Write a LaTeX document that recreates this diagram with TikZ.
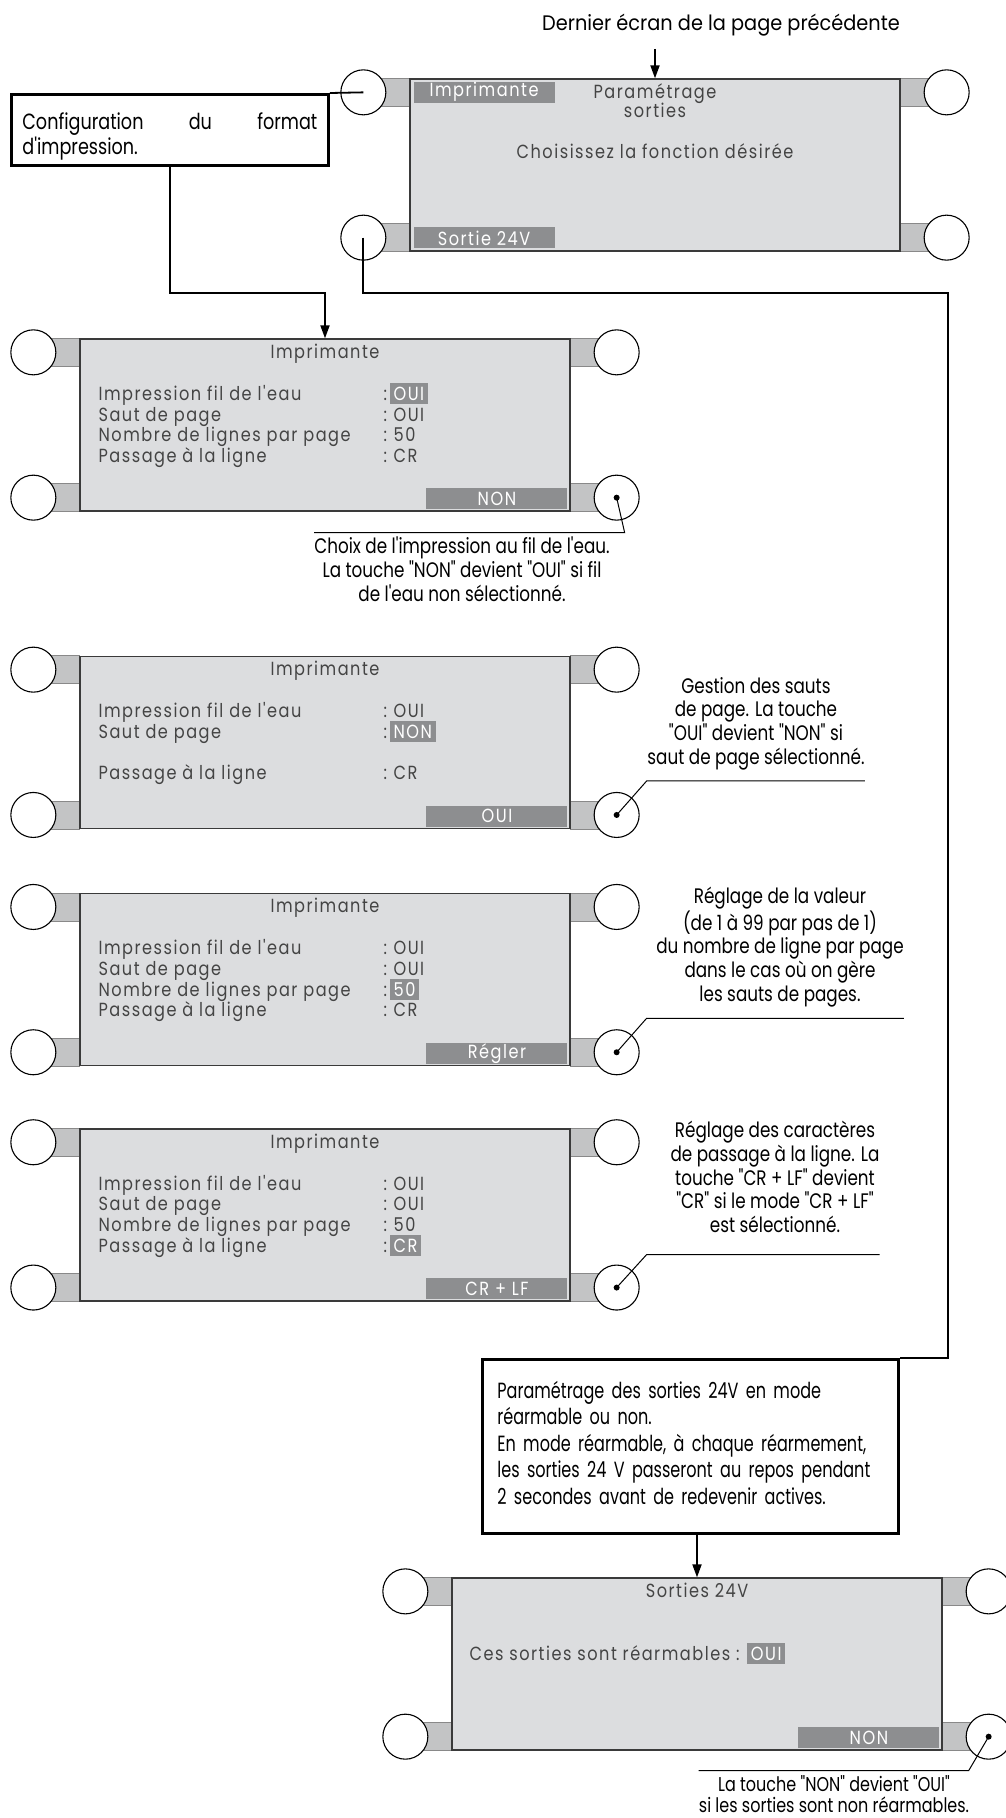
\documentclass[tikz,border=0pt]{standalone}
\usepackage{fontspec}
\setmainfont{Poppins}
\newfontfamily\lcdfont[LetterSpace=8,FakeStretch=0.85]{Poppins}
\newfontfamily\notefont[FakeStretch=0.8]{Poppins}
\newfontfamily\boxfont[FakeStretch=0.73]{Poppins}
\newfontfamily\headfont[FakeStretch=0.92]{Poppins}
\usetikzlibrary{arrows.meta, positioning, calc, backgrounds}
\definecolor{cscreen}{HTML}{DCDDDF}
\definecolor{ctab}{HTML}{C3C4C5}
\definecolor{cbtn}{HTML}{8D8E90}
\definecolor{cline}{HTML}{3A3A3A}
\definecolor{ctext}{HTML}{444444}
\newcommand{\sel}[1]{{\setlength{\fboxsep}{3.6pt}\colorbox{cbtn}{\textcolor{white}{#1}}}}
\newcommand{\nsel}[1]{{\setlength{\fboxsep}{3.6pt}\colorbox{cscreen}{#1}}}
\newcommand{\lcdrow}[2]{\makebox[285pt][l]{#1}:\hspace{3pt}#2}

\begin{document}
\begin{tikzpicture}[
  x=1pt, y=-1pt,
  >={Triangle[length=13pt, width=9pt]},
  screen/.style={draw=cline, line width=1.3pt, fill=cscreen, minimum width=490pt,
                 minimum height=172pt, inner sep=0pt},
  knob/.style={circle, draw=black, line width=1.1pt, fill=white, minimum size=45pt,
               inner sep=0pt},
  tab/.style={fill=ctab, draw=cline!60, line width=0.6pt},
  lcd/.style={font=\lcdfont\fontsize{19}{21}\selectfont, text=ctext, inner sep=0pt},
  soft/.style={lcd, fill=cbtn, text=white, minimum width=141pt, minimum height=21pt},
  note/.style={font=\notefont\fontsize{21}{23.7}\selectfont, align=center, inner sep=0pt},
  txtbox/.style={draw, line width=2.8pt, align=left, inner ysep=0pt},
  arr/.style={->, line width=1.8pt},
  wire/.style={line width=1.8pt},
  lead/.style={line width=1pt},
  ]
\useasboundingbox (0,0) rectangle (1005,1818);

\node[font=\headfont\fontsize{21}{25}\selectfont, anchor=base, inner sep=0pt] (head) at (721,30)
  {Dernier écran de la page précédente};

% screens
\node[screen] (s1) at (655,165) {};
\node[screen] (s2) at (325,425) {};
\node[screen, below=144pt of s2] (s3) {};
\node[screen, below=64pt of s3] (s4) {};
\node[screen, below=62pt of s4] (s5) {};
\node[screen] (s6) at (697,1664) {};

\begin{scope}[on background layer]
  \foreach \s in {s1,s2,s3,s4,s5,s6} {
    \draw[tab] ($(\s.north west)+(-46,0)$) rectangle ($(\s.north west)+(0,28)$);
    \draw[tab] ($(\s.south west)+(-46,-28)$) rectangle (\s.south west);
    \draw[tab] (\s.north east) rectangle ($(\s.north east)+(46,28)$);
    \draw[tab] ($(\s.south east)+(0,-28)$) rectangle ($(\s.south east)+(46,0)$);
  }
\end{scope}
\foreach \s in {s1,s2,s3,s4,s5,s6} {
  \node[knob] (\s-tl) at ($(\s.north west)+(-46,14)$) {};
  \node[knob] (\s-bl) at ($(\s.south west)+(-46,-14)$) {};
  \node[knob] (\s-tr) at ($(\s.north east)+(46,14)$) {};
  \node[knob] (\s-br) at ($(\s.south east)+(46,-14)$) {};
}

% screen 1
\node[soft, anchor=north west] (k1a) at ($(s1.north west)+(4,3)$) {Imprimante};
\node[soft, anchor=south west] (k1b) at ($(s1.south west)+(4,-3)$) {Sortie 24V};
\node[lcd, anchor=base] (s1a) at ($(s1.north)+(0,20)$) {Paramétrage};
\node[lcd, anchor=base] (s1b) at ($(s1.north)+(0,39)$) {sorties};
\node[lcd, anchor=base] (s1c) at ($(s1.north)+(0,80)$) {Choisissez la fonction désirée};

% screens 2 to 5
\foreach \s in {s2,s3,s4,s5}
  \node[lcd, anchor=base] (\s-title) at ($(\s.north)+(0,20)$) {Imprimante};

\node[lcd, anchor=base west] (s2r1) at ($(s2.north west)+(19,62)$) {\lcdrow{Impression fil de l'eau}{\sel{OUI}}};
\node[lcd, anchor=base west] (s2r2) at ($(s2.north west)+(19,82.7)$) {\lcdrow{Saut de page}{\nsel{OUI}}};
\node[lcd, anchor=base west] (s2r3) at ($(s2.north west)+(19,103.4)$) {\lcdrow{Nombre de lignes par page}{\nsel{50}}};
\node[lcd, anchor=base west] (s2r4) at ($(s2.north west)+(19,124)$) {\lcdrow{Passage à la ligne}{\nsel{CR}}};
\node[soft, anchor=south east] (k2) at ($(s2.south east)+(-3,-2)$) {NON};

\node[lcd, anchor=base west] (s3r1) at ($(s3.north west)+(19,62)$) {\lcdrow{Impression fil de l'eau}{\nsel{OUI}}};
\node[lcd, anchor=base west] (s3r2) at ($(s3.north west)+(19,82.7)$) {\lcdrow{Saut de page}{\sel{NON}}};
\node[lcd, anchor=base west] (s3r4) at ($(s3.north west)+(19,124)$) {\lcdrow{Passage à la ligne}{\nsel{CR}}};
\node[soft, anchor=south east] (k3) at ($(s3.south east)+(-3,-2)$) {OUI};

\node[lcd, anchor=base west] (s4r1) at ($(s4.north west)+(19,62)$) {\lcdrow{Impression fil de l'eau}{\nsel{OUI}}};
\node[lcd, anchor=base west] (s4r2) at ($(s4.north west)+(19,82.7)$) {\lcdrow{Saut de page}{\nsel{OUI}}};
\node[lcd, anchor=base west] (s4r3) at ($(s4.north west)+(19,103.4)$) {\lcdrow{Nombre de lignes par page}{\sel{50}}};
\node[lcd, anchor=base west] (s4r4) at ($(s4.north west)+(19,124)$) {\lcdrow{Passage à la ligne}{\nsel{CR}}};
\node[soft, anchor=south east] (k4) at ($(s4.south east)+(-3,-2)$) {Régler};

\node[lcd, anchor=base west] (s5r1) at ($(s5.north west)+(19,62)$) {\lcdrow{Impression fil de l'eau}{\nsel{OUI}}};
\node[lcd, anchor=base west] (s5r2) at ($(s5.north west)+(19,82.7)$) {\lcdrow{Saut de page}{\nsel{OUI}}};
\node[lcd, anchor=base west] (s5r3) at ($(s5.north west)+(19,103.4)$) {\lcdrow{Nombre de lignes par page}{\nsel{50}}};
\node[lcd, anchor=base west] (s5r4) at ($(s5.north west)+(19,124)$) {\lcdrow{Passage à la ligne}{\sel{CR}}};
\node[soft, anchor=south east] (k5) at ($(s5.south east)+(-3,-2)$) {CR + LF};

% screen 6
\node[lcd, anchor=base] (s6-title) at ($(s6.north)+(0,20)$) {Sorties 24V};
\node[lcd, anchor=base west] (s6r) at ($(s6.north west)+(18,83)$) {Ces sorties sont réarmables : \sel{OUI}};
\node[soft, anchor=south east] (k6) at ($(s6.south east)+(-3,-2)$) {NON};

% text boxes
\node[txtbox, anchor=north west, text width=295pt, inner xsep=11pt, minimum height=71pt,
      font=\notefont\fontsize{22}{25}\selectfont] (cfg) at (10,93)
  {\rule{0pt}{29pt}Configuration\hfill du\hfill format\\d'impression.};
\node[txtbox, anchor=north west, text width=386pt, inner xsep=15pt, minimum height=174pt,
      font=\boxfont\fontsize{22}{26.5}\selectfont] (cfg24) at (481,1358)
  {\rule{0pt}{22pt}Paramétrage des sorties 24V en mode\\réarmable ou non.\\En mode réarmable, à chaque réarmement,\\les sorties 24 V passeront au repos pendant\\2 secondes avant de redevenir actives.\rule[-12pt]{0pt}{12pt}};

% connectors
\coordinate (rail) at (948,293);
\draw[arr] ($(head.south -| s1.north)+(0,13)$) -- (s1.north);
\draw[wire] (s1-tl.center) -- (cfg.north east);
\draw[arr] (cfg.south) -- (cfg.south |- rail) -| (s2.north);
\draw[wire] (s1-bl.center) |- (rail) |- (cfg24.north east);
\draw[arr] (cfg24.south -| s6.north) -- (s6.north);

% notes
\node[note, anchor=north] (n2) at (462,537)
  {Choix de l'impression au fil de l'eau.\\La touche "NON" devient "OUI" si fil\\de l'eau non sélectionné.};
\node[note, anchor=south] (n3) at (756,770)
  {Gestion des sauts\\de page. La touche\\"OUI" devient "NON" si\\saut de page sélectionné.};
\node[note, anchor=south] (n4) at (780,1007)
  {Réglage de la valeur\\(de 1 à 99 par pas de 1)\\du nombre de ligne par page\\dans le cas où on gère\\les sauts de pages.};
\node[note, anchor=south] (n5) at (775,1233)
  {Réglage des caractères\\de passage à la ligne. La\\touche "CR + LF" devient\\"CR" si le mode "CR + LF"\\est sélectionné.};
\node[note, anchor=north, font=\notefont\fontsize{20}{21.5}\selectfont] (n6) at (834,1775)
  {La touche "NON" devient "OUI"\\si les sorties sont non réarmables.};

\coordinate (c2) at ($(s2-br)+(8,35)$);
\coordinate (c3) at ($(s3-br)+(30,-34)$);
\coordinate (c4) at ($(s4-br)+(30,-34)$);
\coordinate (c5) at ($(s5-br)+(30,-33)$);
\coordinate (c6) at ($(s6-br)+(-20,34)$);
\foreach \s in {s2,s3,s4,s5,s6}
  \fill (\s-br.center) circle (3pt);
\draw[lead] (s2-br.center) -- (c2) -- (c2 -| n2.west);
\draw[lead] (s3-br.center) -- (c3) -- (c3 -| n3.east);
\draw[lead] (s4-br.center) -- (c4) -- (c4 -| n4.east);
\draw[lead] (s5-br.center) -- (c5) -- (c5 -| n5.east);
\draw[lead] (s6-br.center) -- (c6) -- (c6 -| n6.west);
\end{tikzpicture}
\end{document}
